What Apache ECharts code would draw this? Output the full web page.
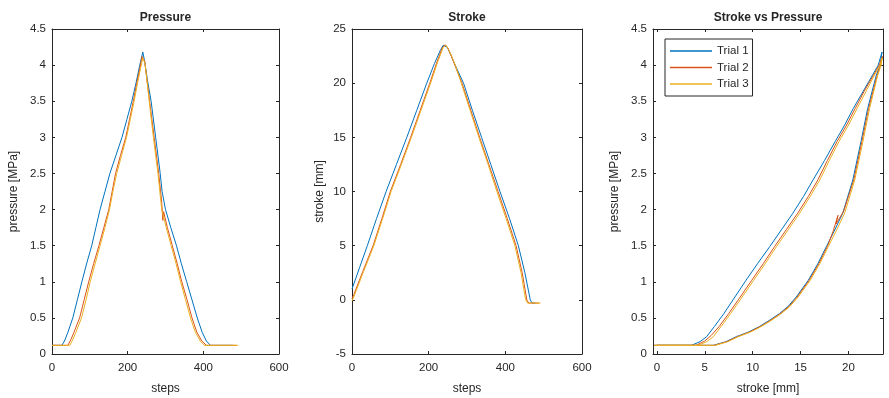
<!DOCTYPE html>
<html>
<head>
<meta charset="utf-8">
<script src="https://cdn.jsdelivr.net/npm/echarts@6/dist/echarts.min.js"></script>
<style>
  html, body { margin: 0; padding: 0; background: #ffffff; }
  #chart { width: 889px; height: 398px; }
</style>
</head>
<body>
<div id="chart"></div>
<script>
// ---- Pressure vs steps (three trials) ----
const pressureSteps1 = [0, 26, 33, 42, 55, 67, 79, 92, 105, 116, 127, 140, 153, 169, 185, 198, 211, 222, 232, 240, 245, 252, 262, 274, 286, 291, 300, 314, 329, 342, 356, 370, 384, 397, 408, 419, 478];
const pressureTrial1 = [0.12, 0.12, 0.18, 0.3, 0.5, 0.75, 1.0, 1.26, 1.5, 1.75, 2.0, 2.25, 2.5, 2.75, 3.0, 3.25, 3.5, 3.75, 4.0, 4.18, 4.05, 3.8, 3.5, 3.0, 2.5, 2.25, 2.0, 1.75, 1.5, 1.25, 1.0, 0.75, 0.5, 0.3, 0.18, 0.12, 0.12];

const pressureSteps2 = [0, 42, 50, 58, 73, 85, 97, 110, 124, 137, 150, 159, 168, 181, 195, 205, 215, 224, 232, 238, 245, 258, 270, 282, 290, 293, 295, 305, 318, 331, 343, 357, 370, 383, 396, 408, 488];
const pressureTrial2 = [0.12, 0.12, 0.2, 0.3, 0.5, 0.75, 1.0, 1.25, 1.5, 1.75, 2.0, 2.25, 2.5, 2.75, 3.0, 3.25, 3.5, 3.75, 3.95, 4.12, 4.05, 3.5, 3.0, 2.5, 2.1, 1.85, 1.97, 1.75, 1.5, 1.25, 1.0, 0.75, 0.5, 0.3, 0.18, 0.12, 0.12];

const pressureSteps3 = [0, 47, 55, 63, 78, 90, 101, 114, 127, 140, 152, 161, 171, 184, 197, 207, 217, 226, 234, 240, 246, 257, 268, 280, 290, 302, 315, 328, 340, 353, 366, 379, 392, 403, 492];
const pressureTrial3 = [0.12, 0.12, 0.2, 0.3, 0.5, 0.75, 1.0, 1.25, 1.5, 1.75, 2.0, 2.25, 2.5, 2.75, 3.0, 3.25, 3.5, 3.75, 3.95, 4.1, 4.02, 3.5, 3.0, 2.5, 2.0, 1.75, 1.5, 1.25, 1.0, 0.75, 0.5, 0.3, 0.18, 0.12, 0.12];

// ---- Stroke vs steps (three trials) ----
const strokeSteps1 = [0, 20, 40, 64, 89, 116, 143, 169, 195, 215, 230, 238, 243, 249, 258, 270, 291, 314, 338, 362, 386, 411, 434, 451, 465, 470, 478];
const strokeTrial1 = [1.0, 3.0, 5.0, 7.5, 10, 12.5, 15, 17.5, 20, 21.8, 23.0, 23.5, 23.6, 23.3, 22.6, 21.6, 20, 17.5, 15, 12.5, 10, 7.5, 5, 2.5, 0, -0.3, -0.3];

const strokeSteps2 = [0, 5, 28, 55, 78, 100, 127, 153, 178, 203, 222, 236, 243, 249, 258, 270, 287, 310, 333, 357, 381, 405, 428, 444, 456, 461, 488];
const strokeTrial2 = [0.1, 0.5, 2.6, 5, 7.5, 10, 12.5, 15, 17.5, 20, 22.0, 23.3, 23.55, 23.3, 22.6, 21.5, 20, 17.5, 15, 12.5, 10, 7.5, 5, 2.5, 0, -0.3, -0.3];

const strokeSteps3 = [0, 5, 30, 57, 80, 102, 129, 155, 180, 205, 224, 238, 245, 251, 260, 271, 285, 308, 331, 355, 378, 402, 425, 441, 453, 458, 492];
const strokeTrial3 = [-0.1, 0.3, 2.6, 5, 7.5, 10, 12.5, 15, 17.5, 20, 22.0, 23.3, 23.5, 23.2, 22.5, 21.5, 20, 17.5, 15, 12.5, 10, 7.5, 5, 2.5, 0, -0.3, -0.3];

// ---- Pressure against stroke: loading branch then unloading branch ----
const loopStroke1 = [0, 3.6, 4.5, 5.2, 6.0, 7.0, 7.95, 9.3, 10.5, 11.8, 13.0, 14.2, 15.3, 16.3, 17.5, 18.6, 19.6, 20.5, 21.5, 22.5, 23.1, 23.5, 23.3, 22.9, 22.0, 21.3, 20.45, 19.4, 18.5, 17.7, 16.8, 15.8, 14.55, 13.7, 12.8, 11.8, 10.7, 9.5, 8.3, 7.2, 5.9, -0.3];
const loopPressure1 = [0.12, 0.12, 0.17, 0.24, 0.38, 0.56, 0.75, 1.02, 1.25, 1.49, 1.72, 1.95, 2.18, 2.41, 2.68, 2.94, 3.17, 3.40, 3.63, 3.86, 4.0, 4.18, 4.0, 3.86, 3.40, 2.94, 2.41, 1.95, 1.70, 1.49, 1.25, 1.02, 0.79, 0.66, 0.56, 0.47, 0.38, 0.30, 0.24, 0.17, 0.12, 0.12];

const loopStroke2 = [0, 4.1, 5.0, 5.7, 6.5, 7.5, 8.5, 9.9, 11.1, 12.3, 13.5, 14.7, 15.8, 16.8, 17.8, 18.8, 19.8, 20.7, 21.6, 22.6, 23.2, 23.55, 23.35, 23.0, 22.1, 21.4, 20.55, 19.5, 18.7, 18.9, 18.4, 17.8, 16.9, 15.9, 14.65, 13.8, 12.9, 11.9, 10.8, 9.6, 8.4, 7.3, 6.0, -0.3];
const loopPressure2 = [0.12, 0.12, 0.18, 0.26, 0.38, 0.56, 0.75, 1.02, 1.25, 1.49, 1.72, 1.95, 2.18, 2.41, 2.68, 2.94, 3.17, 3.40, 3.63, 3.86, 4.0, 4.12, 4.0, 3.86, 3.40, 2.94, 2.41, 1.98, 1.80, 1.92, 1.70, 1.49, 1.25, 1.02, 0.79, 0.66, 0.56, 0.47, 0.38, 0.30, 0.24, 0.17, 0.12, 0.12];

const loopStroke3 = [0, 4.3, 5.2, 5.9, 6.7, 7.7, 8.7, 10.1, 11.3, 12.5, 13.7, 14.9, 16.0, 17.0, 18.0, 19.0, 20.0, 20.9, 21.8, 22.7, 23.3, 23.5, 23.4, 23.05, 22.2, 21.5, 20.65, 19.6, 18.7, 17.9, 17.0, 16.0, 14.75, 13.9, 13.0, 12.0, 10.9, 9.7, 8.5, 7.4, 6.1, -0.3];
const loopPressure3 = [0.12, 0.12, 0.17, 0.24, 0.38, 0.56, 0.75, 1.02, 1.25, 1.49, 1.72, 1.95, 2.18, 2.41, 2.68, 2.94, 3.17, 3.40, 3.63, 3.86, 4.0, 4.1, 4.0, 3.86, 3.40, 2.94, 2.41, 1.95, 1.70, 1.49, 1.25, 1.02, 0.79, 0.66, 0.56, 0.47, 0.38, 0.30, 0.24, 0.17, 0.12, 0.12];

const trialNames = ['Trial 1', 'Trial 2', 'Trial 3'];
const trialColors = ['#0072BD', '#D95319', '#EDB120'];
const panelTitles = ['Pressure', 'Stroke', 'Stroke vs Pressure'];
const strokeTicks = [0, 5, 10, 15, 20];

// ---- chart construction ----
const AXIS_COLOR = '#262626';
const FONT = '"Liberation Sans", Arial, Helvetica, sans-serif';
const zip = (xs, ys) => xs.map((x, i) => [x, ys[i]]);

// fixed plot boxes; labels may sit close to the canvas edge without shrinking them
const grids = [
  { left: 52, top: 29, width: 227, height: 325, outerBoundsMode: 'none', containLabel: false },
  { left: 352, top: 29, width: 230, height: 325, outerBoundsMode: 'none', containLabel: false },
  { left: 653, top: 29, width: 230, height: 325, outerBoundsMode: 'none', containLabel: false }
];

function axis(kind, gridIndex, position, range, opts) {
  const o = opts || {};
  const a = {
    type: 'value',
    gridIndex: gridIndex,
    position: position,
    min: range.min,
    max: range.max,
    axisLine: { show: true, onZero: false, lineStyle: { color: AXIS_COLOR, width: 1 } },
    axisTick: { show: true, inside: true, length: 3, lineStyle: { color: AXIS_COLOR, width: 1 } },
    axisLabel: {
      show: !!o.labels,
      color: AXIS_COLOR,
      fontSize: 11.5,
      fontFamily: FONT,
      margin: kind === 'x' ? 8 : 6
    },
    splitLine: { show: false }
  };
  if (range.interval !== undefined) a.interval = range.interval;
  if (range.ticks) {
    a.axisTick.customValues = range.ticks;
    a.axisLabel.customValues = range.ticks;
  }
  if (o.name) {
    a.name = o.name;
    a.nameLocation = 'middle';
    a.nameGap = o.nameGap;
    a.nameTextStyle = Object.assign({ color: AXIS_COLOR, fontSize: 12, fontFamily: FONT }, o.nameStyle || {});
  }
  return a;
}

const stepsRange = { min: 0, max: 600, interval: 200 };
const pressureRange = { min: 0, max: 4.5, interval: 0.5 };
const strokeRange = { min: -5, max: 25, interval: 5 };
const strokeXRange = { min: -0.4, max: 23.6, ticks: strokeTicks };
const titleStyle = { fontWeight: 'bold', fontSize: 12 };

const xAxes = [
  axis('x', 0, 'bottom', stepsRange, { labels: true, name: 'steps', nameGap: 29 }),
  axis('x', 0, 'top', stepsRange, { name: panelTitles[0], nameGap: 5, nameStyle: titleStyle }),
  axis('x', 1, 'bottom', stepsRange, { labels: true, name: 'steps', nameGap: 29 }),
  axis('x', 1, 'top', stepsRange, { name: panelTitles[1], nameGap: 5, nameStyle: titleStyle }),
  axis('x', 2, 'bottom', strokeXRange, { labels: true, name: 'stroke [mm]', nameGap: 29 }),
  axis('x', 2, 'top', strokeXRange, { name: panelTitles[2], nameGap: 5, nameStyle: titleStyle })
];
const yAxes = [
  axis('y', 0, 'left', pressureRange, { labels: true, name: 'pressure [MPa]', nameGap: 32 }),
  axis('y', 0, 'right', pressureRange, {}),
  axis('y', 1, 'left', strokeRange, { labels: true, name: 'stroke [mm]', nameGap: 26 }),
  axis('y', 1, 'right', strokeRange, {}),
  axis('y', 2, 'left', pressureRange, { labels: true, name: 'pressure [MPa]', nameGap: 32 }),
  axis('y', 2, 'right', pressureRange, {})
];

const panels = [
  { x: 0, y: 0, xs: [pressureSteps1, pressureSteps2, pressureSteps3], ys: [pressureTrial1, pressureTrial2, pressureTrial3] },
  { x: 2, y: 2, xs: [strokeSteps1, strokeSteps2, strokeSteps3], ys: [strokeTrial1, strokeTrial2, strokeTrial3] },
  { x: 4, y: 4, xs: [loopStroke1, loopStroke2, loopStroke3], ys: [loopPressure1, loopPressure2, loopPressure3] }
];

const series = [];
panels.forEach(p => {
  trialNames.forEach((name, t) => {
    series.push({
      type: 'line',
      name: name,
      xAxisIndex: p.x,
      yAxisIndex: p.y,
      data: zip(p.xs[t], p.ys[t]),
      symbol: 'none',
      showSymbol: false,
      smooth: false,
      clip: true,
      lineStyle: { color: trialColors[t], width: 1 },
      itemStyle: { color: trialColors[t] },
      emphasis: { disabled: true }
    });
  });
});

const chart = echarts.init(document.getElementById('chart'), null, { renderer: 'canvas' });
chart.setOption({
  animation: false,
  backgroundColor: '#ffffff',
  textStyle: { fontFamily: FONT },
  grid: grids,
  xAxis: xAxes,
  yAxis: yAxes,
  legend: {
    data: trialNames,
    orient: 'vertical',
    left: 665,
    top: 39,
    icon: 'rect',
    itemWidth: 42,
    itemHeight: 1.5,
    itemGap: 2.5,
    padding: [5, 4, 5, 5],
    borderColor: AXIS_COLOR,
    borderWidth: 1,
    backgroundColor: '#ffffff',
    selectedMode: false,
    textStyle: { color: AXIS_COLOR, fontSize: 11.5, fontFamily: FONT, lineHeight: 14 }
  },
  series: series
});
</script>
</body>
</html>
